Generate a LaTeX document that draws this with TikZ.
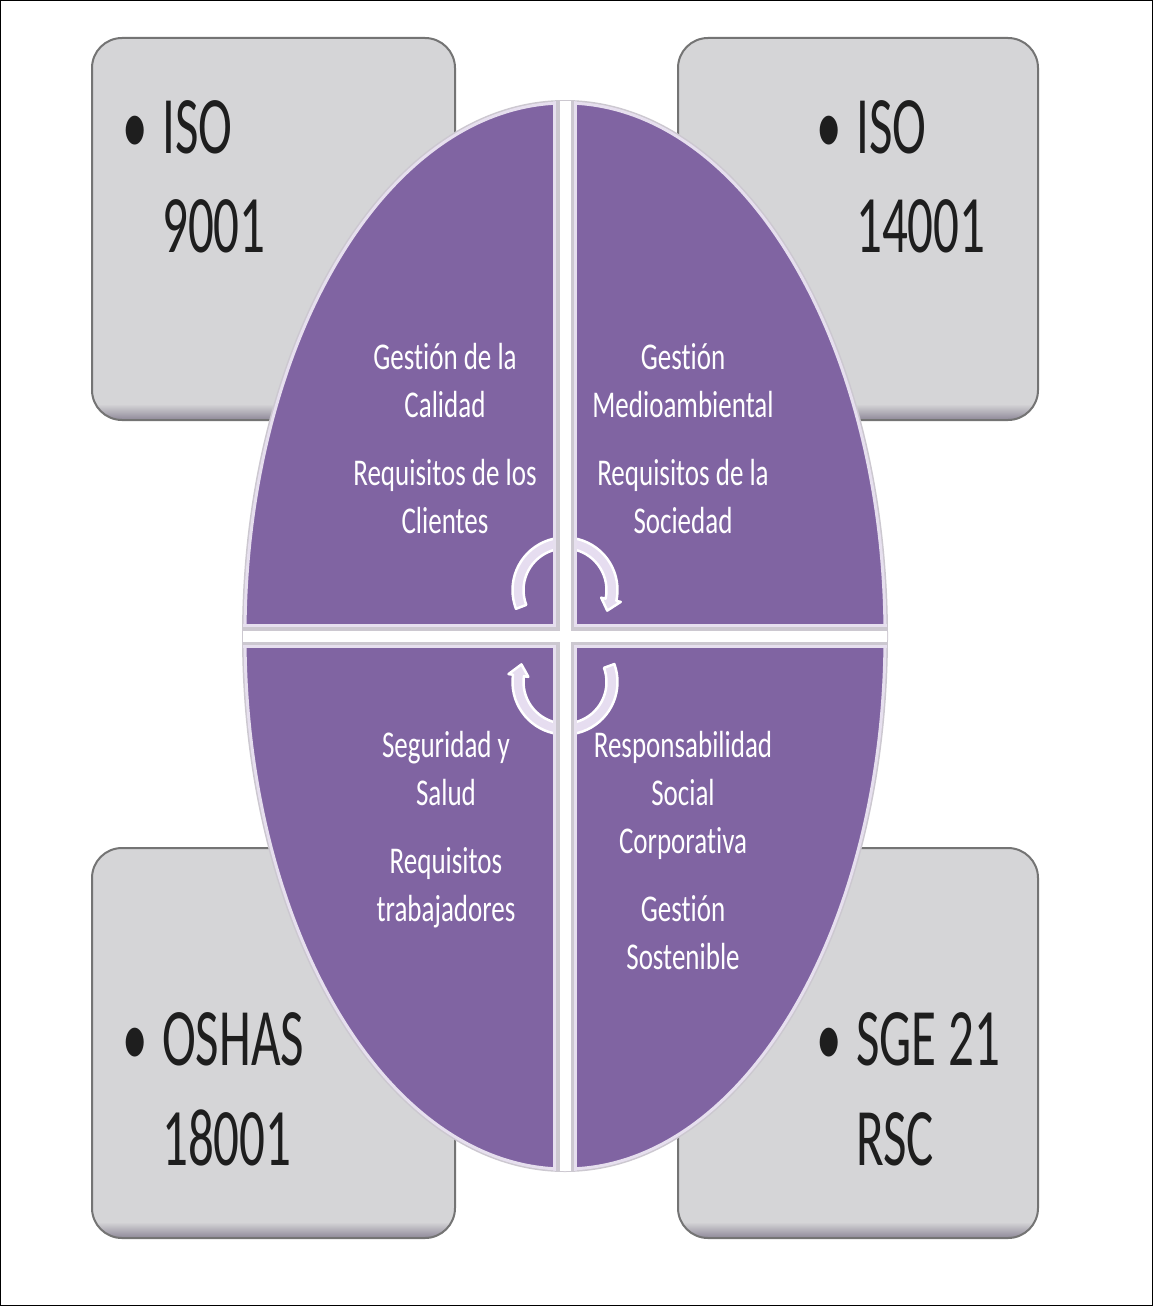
\documentclass[tikz,border=0pt]{standalone}
\usepackage{fontspec}
\setmainfont{Carlito}[Ligatures={NoCommon,NoContextual}]
\usepackage{graphicx}
\usetikzlibrary{calc}
\definecolor{purp}{HTML}{8064A2}
\definecolor{boxgray}{HTML}{D5D5D7}
\definecolor{boxedge}{HTML}{747474}
\definecolor{boxshade}{HTML}{8E8898}
\definecolor{arrowfill}{HTML}{E6DDF0}
\definecolor{gapedge}{HTML}{CCC8D0}
\definecolor{gaplav}{HTML}{E6DFEE}
\definecolor{boxtxt}{HTML}{1E1E1E}

\newcommand\quadtext[1]{\scalebox{1}[1.4]{\fontsize{27}{34.5}\selectfont\begin{tabular}[t]{@{}c@{}}#1\end{tabular}}}
\newcommand\boxtext[1]{\scalebox{1}[1.6]{\fontsize{51}{62.5}\selectfont\begin{tabular}[t]{@{}l@{}}#1\end{tabular}}}
\newcommand\bul{\llap{•\hspace{14pt}}}

\newcommand\graybox[4]{%
  \fill[boxgray,rounded corners=30] (#1,#2) rectangle (#3,#4);
  \begin{scope}
    \clip[rounded corners=30] (#1,#2) rectangle (#3,#4);
    \shade[top color=boxgray, bottom color=boxshade] (#1,{#4-16}) rectangle (#3,#4);
  \end{scope}
  \draw[boxedge,line width=2pt,rounded corners=30] (#1,#2) rectangle (#3,#4);}

\newcommand\cycarrow[4]{%
  \begin{scope}[shift={(#1,#2)}]
    \filldraw[arrowfill, draw=white, line width=2.5pt, line join=round]
      plot[domain=#3:#4, samples=40] (\x:52.5) -- (#4:57) -- ({#4+14}:47) -- (#4:37)
      -- plot[domain=#4:#3, samples=40] (\x:41.5) -- cycle;
  \end{scope}}

\begin{document}
\begin{tikzpicture}[x=1pt,y=-1pt,
  qtext/.style={anchor=base, inner sep=0pt, text=white},
  btext/.style={anchor=base west, inner sep=0pt, text=boxtxt}]
\useasboundingbox (0,0) rectangle (1153,1306);
\fill[white] (0,0) rectangle (1153,1306);
\draw[black,line width=1.2pt] (0.6,0.6) rectangle (1152.4,1305.4);

% corner boxes
\graybox{92}{38}{455}{420}
\graybox{678}{38}{1038}{420}
\graybox{92}{848}{455}{1238}
\graybox{678}{848}{1038}{1238}

\node[btext] (t1) at (162,153) {\boxtext{\bul ISO\\9001}};
\node[btext] (t2) at (856,153) {\boxtext{\bul ISO\\14001}};
\node[btext] (t3) at (162,1065) {\boxtext{\bul OSHAS\\18001}};
\node[btext] (t4) at (856,1065) {\boxtext{\bul SGE 21\\RSC}};

% ellipse
\draw[gapedge,line width=6pt] (565,636) ellipse [x radius=320, y radius=533];
\fill[purp] (565,636) ellipse [x radius=320, y radius=533];
\draw[gaplav,line width=3pt] (565,636) ellipse [x radius=320, y radius=533];

% cycle arrows
\cycarrow{565}{590}{159}{372}
\cycarrow{565}{682}{-20}{188}

% gaps between quadrants
\begin{scope}
  \clip (565,636) ellipse [x radius=322, y radius=535];
  \draw[gaplav,line width=24pt] (565,90) -- (565,1185);
  \draw[gaplav,line width=24pt] (230,636) -- (900,636);
  \draw[gapedge,line width=18pt] (565,90) -- (565,1185);
  \draw[gapedge,line width=18pt] (230,636) -- (900,636);
  \draw[white,line width=11pt] (565,90) -- (565,1185);
  \draw[white,line width=11pt] (230,636) -- (900,636);
\end{scope}

% quadrant texts
\node[qtext] (q1) at (445,369) {\quadtext{Gestión de la\\Calidad\\[14pt]Requisitos de los\\Clientes}};
\node[qtext] (q2) at (683,369) {\quadtext{Gestión\\Medioambiental\\[14pt]Requisitos de la\\Sociedad}};
\node[qtext] (q3) at (446,757) {\quadtext{Seguridad y\\Salud\\[14pt]Requisitos\\trabajadores}};
\node[qtext] (q4) at (683,757) {\quadtext{Responsabilidad\\Social\\Corporativa\\[14pt]Gestión\\Sostenible}};
\end{tikzpicture}
\end{document}
